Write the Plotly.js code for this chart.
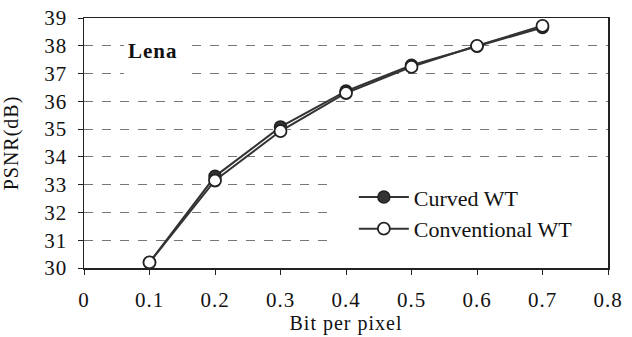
<!DOCTYPE html>
<html><head><meta charset="utf-8">
<script src="https://cdn.plot.ly/plotly-3.0.1.min.js"></script>
<style>html,body{margin:0;padding:0;background:#fff} #chart .xtick text,#chart .ytick text,#chart .xtitle,#chart .ytitle,#chart .annotation-text{letter-spacing:1px}</style>
</head><body>
<div id="chart" style="width:632px;height:337px"></div>
<script>
const bpp = [0.1, 0.2, 0.3, 0.4, 0.5, 0.6, 0.7];
const curvedWT = [30.2, 33.3, 35.08, 36.37, 37.3, 37.98, 38.66];
const conventionalWT = [30.2, 33.15, 34.93, 36.3, 37.24, 38.0, 38.72];
const seriesNames = ['Curved WT', 'Conventional WT'];
const xTicks = [0, 0.1, 0.2, 0.3, 0.4, 0.5, 0.6, 0.7, 0.8];
const xTickText = ['0', '0.1', '0.2', '0.3', '0.4', '0.5', '0.6', '0.7', '0.8'];
const yTicks = [30, 31, 32, 33, 34, 35, 36, 37, 38, 39];

const font = 'Liberation Serif, Times New Roman, serif';
const traces = [
  {x: bpp, y: curvedWT, name: seriesNames[0], mode: 'lines+markers',
   line: {color: '#333', width: 2},
   marker: {symbol: 'circle', size: 12, color: '#333', line: {color: '#222', width: 1.5}}},
  {x: bpp, y: conventionalWT, name: seriesNames[1], mode: 'lines+markers',
   line: {color: '#333', width: 2},
   marker: {symbol: 'circle', size: 12, color: '#fff', line: {color: '#222', width: 1.8}}}
];
const layout = {
  width: 632, height: 337,
  margin: {l: 84, r: 24, t: 18, b: 69},
  paper_bgcolor: '#fff', plot_bgcolor: '#fff',
  font: {family: font, size: 20, color: '#111'},
  showlegend: true,
  legend: {x: 0.515, xanchor: 'left', y: 0.367, yanchor: 'top', bgcolor: 'rgba(0,0,0,0)',
           font: {family: font, size: 22, color: '#111'}, itemwidth: 50},
  xaxis: {range: [0, 0.8], tickvals: xTicks, ticktext: xTickText, showgrid: false, zeroline: false,
          showline: true, linecolor: '#222', linewidth: 1.5, mirror: true,
          ticks: 'outside', ticklen: 5, tickcolor: '#222', tickfont: {family: font, size: 21},
          ticklabelstandoff: 7,
          title: {text: 'Bit per pixel', font: {family: font, size: 20}, standoff: 2}},
  yaxis: {range: [30, 39], tickvals: yTicks, showgrid: true, gridcolor: '#777', griddash: 'dash', gridwidth: 1,
          zeroline: false, showline: true, linecolor: '#222', linewidth: 1.5, mirror: true,
          ticks: 'outside', ticklen: 5, tickcolor: '#222', tickfont: {family: font, size: 21},
          ticklabelstandoff: 6,
          title: {text: 'PSNR(dB)', font: {family: font, size: 20}, standoff: 22}},
  shapes: [
    {type: 'rect', xref: 'x', yref: 'y', x0: 0.061, x1: 0.163, y0: 36.6, y1: 38.4,
     fillcolor: '#fff', line: {width: 0}, layer: 'between'},
    {type: 'rect', xref: 'x', yref: 'y', x0: 0.375, x1: 0.8, y0: 30.5, y1: 33.5,
     fillcolor: '#fff', line: {width: 0}, layer: 'between'}
  ],
  annotations: [
    {text: '<b>Lena</b>', xref: 'x', yref: 'y', x: 0.106, y: 37.8, showarrow: false,
     font: {family: font, size: 21, color: '#111'}}
  ]
};
Plotly.newPlot('chart', traces, layout, {displayModeBar: false, staticPlot: true});
</script>
</body></html>
